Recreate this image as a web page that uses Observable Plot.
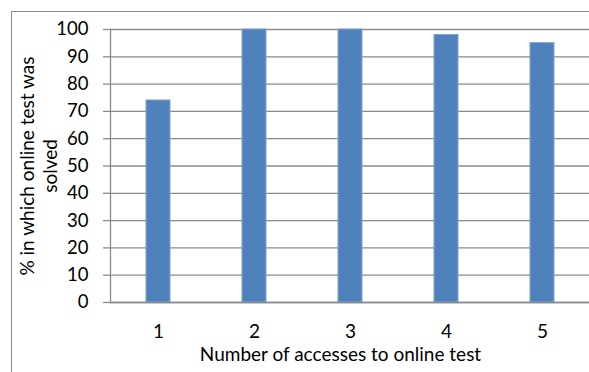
<!DOCTYPE html>
<html><head><meta charset="utf-8">
<script src="https://cdn.jsdelivr.net/npm/d3@7"></script>
<script src="https://cdn.jsdelivr.net/npm/@observablehq/plot@0.6"></script>
<style>
body{margin:0;background:#fff;}
#wrap{position:relative;width:589px;height:372px;overflow:hidden;background:#fff;}
#wrap svg{position:absolute;left:0;top:0;}
#frame{position:absolute;left:11px;top:11px;width:700px;height:500px;border-left:1.3px solid #8c8c8c;border-top:1.3px solid #8c8c8c;}
</style></head><body><div id="wrap"><div id="frame"></div></div>
<script>
const accesses = ["1", "2", "3", "4", "5"];
const percentSolved = [74, 100, 100, 98, 95];
const yTicks = [0, 10, 20, 30, 40, 50, 60, 70, 80, 90, 100];
const xTitle = "Number of accesses to online test";
const yTitle = "% in which online test was\nsolved";

const data = accesses.map((a, i) => ({access: a, pct: percentSolved[i]}));
const grid = "#8a8a8a";
const fs = 19;

const plot = Plot.plot({
  width: 589, height: 372,
  marginLeft: 110, marginRight: 0, marginTop: 29, marginBottom: 70,
  style: {fontFamily: "Lato, sans-serif", fontSize: fs + "px", color: "#000", background: "transparent"},
  x: {domain: accesses, range: [110, 590], paddingInner: 0.75, paddingOuter: 0.375},
  y: {domain: [0, 100], range: [302, 29]},
  marks: [
    Plot.gridY(yTicks, {stroke: grid, strokeOpacity: 1, strokeWidth: 1.3}),
    Plot.axisY(yTicks, {tickSize: 7, tickPadding: 15, stroke: grid, strokeWidth: 1.3, label: null, fontSize: 18.5, fill: "#000"}),
    Plot.frame({anchor: "left", stroke: grid, strokeWidth: 1.3}),
    Plot.barY(data, {x: "access", y: "pct", fill: "#4F81BD", stroke: "#7ea3d2", strokeWidth: 1}),
    Plot.ruleY([0], {stroke: grid, strokeWidth: 1.5}),
    Plot.axisX({tickSize: 0, tickPadding: 22, label: null, fontSize: fs, fill: "#000"}),
    Plot.text([xTitle], {frameAnchor: "bottom", lineAnchor: "bottom", dy: 58.7, dx: -9.5, fontSize: fs, fill: "#000"}),
    Plot.text([yTitle], {frameAnchor: "left", rotate: -90, textAnchor: "middle", lineAnchor: "middle", lineHeight: 1.18, dx: -72, fontSize: fs, fill: "#000"})
  ]
});
document.getElementById("wrap").prepend(plot);
</script>
</body></html>
